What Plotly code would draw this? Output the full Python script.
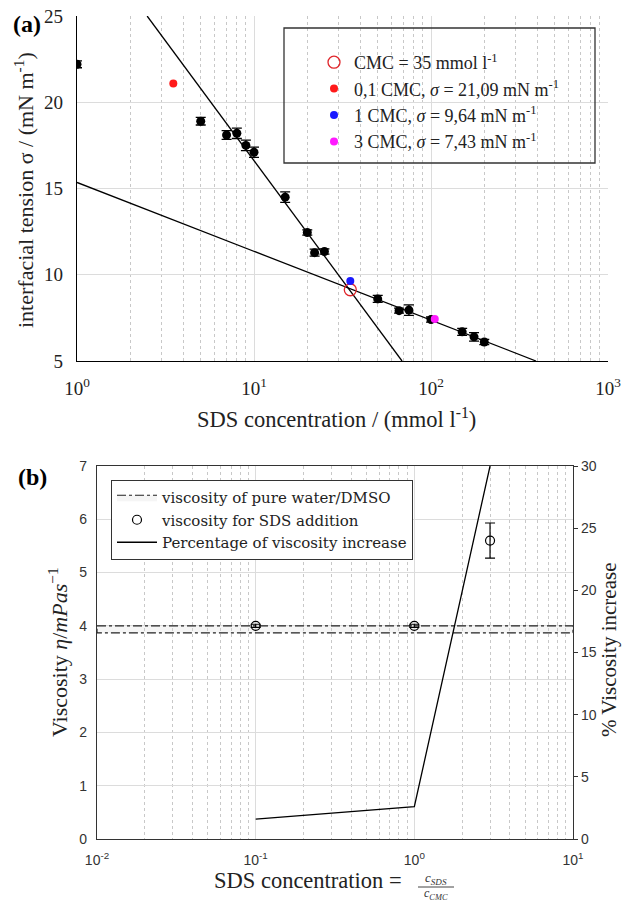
import math
import plotly.graph_objects as go

W, H = 622, 901

# ---------------- Panel (a) data ----------------
sds_conc = [1, 5, 7, 8, 9, 10, 15, 20, 22, 25, 50, 66, 75, 100, 150, 175, 200]
sds_sigma = [22.2, 18.9, 18.1, 18.2, 17.5, 17.1, 14.5, 12.45, 11.28, 11.35, 8.6, 7.92, 7.95, 7.4, 6.69, 6.4, 6.1]
sds_err = [0.2, 0.22, 0.25, 0.3, 0.3, 0.3, 0.3, 0.15, 0.2, 0.15, 0.2, 0.15, 0.3, 0.15, 0.2, 0.25, 0.15]

cmc_x, cmc_y = [35], [9.13]
p01_x, p01_y = [3.5], [21.09]
p1_x, p1_y = [35], [9.64]
p3_x, p3_y = [105], [7.43]

fit_steep_x, fit_steep_y = [2.49, 68.6], [25, 5]
fit_flat_x, fit_flat_y = [1, 392], [15.35, 5]

# ---------------- Panel (b) data ----------------
band_x = [0.01, 10, 10, 0.01, 0.01]
band_y = [4.0, 4.0, 3.87, 3.87, 4.0]
visc_x = [0.1, 1, 3]
visc_y = [4.0, 4.0, 5.6]
visc_err = [0.03, 0.03, 0.33]
pct_x = [0.1, 1, 3]
pct_y = [1.6, 2.6, 30.0]

# ---------------- geometry helpers ----------------
def px(x):
    return x / W
def py(y):
    return 1 - y / H

SERIF = "Liberation Serif, Times New Roman, serif"
SERIF_B = "DejaVu Serif, serif"
SANS = "Liberation Sans, Arial, sans-serif"
GRID = "#dcdcdc"
MINOR = "#c8c8c8"

fig = go.Figure()

# panel a traces
fig.add_trace(go.Scatter(x=fit_steep_x, y=fit_steep_y, mode="lines", line=dict(color="black", width=1.3),
                         showlegend=False, xaxis="x", yaxis="y"))
fig.add_trace(go.Scatter(x=fit_flat_x, y=fit_flat_y, mode="lines", line=dict(color="black", width=1.3),
                         showlegend=False, xaxis="x", yaxis="y"))
fig.add_trace(go.Scatter(x=sds_conc, y=sds_sigma, mode="markers",
                         marker=dict(color="black", size=9),
                         error_y=dict(type="data", array=sds_err, color="black", thickness=1.3, width=5),
                         showlegend=False, xaxis="x", yaxis="y"))
fig.add_trace(go.Scatter(x=cmc_x, y=cmc_y, mode="markers", name="CMC = 35 mmol l<sup>-1</sup>",
                         marker=dict(symbol="circle-open", color="#e0262b", size=12, line=dict(width=1.3)),
                         legend="legend", xaxis="x", yaxis="y"))
fig.add_trace(go.Scatter(x=p01_x, y=p01_y, mode="markers", name="0,1 CMC, <i>σ</i> = 21,09 mN m<sup>-1</sup>",
                         marker=dict(color="#ff1a1a", size=8), legend="legend", xaxis="x", yaxis="y"))
fig.add_trace(go.Scatter(x=p1_x, y=p1_y, mode="markers", name="1 CMC, <i>σ</i> = 9,64 mN m<sup>-1</sup>",
                         marker=dict(color="#1a1aff", size=8), legend="legend", xaxis="x", yaxis="y"))
fig.add_trace(go.Scatter(x=p3_x, y=p3_y, mode="markers", name="3 CMC, <i>σ</i> = 7,43 mN m<sup>-1</sup>",
                         marker=dict(color="#ff1aff", size=8), legend="legend", xaxis="x", yaxis="y"))

# panel b traces
fig.add_trace(go.Scatter(x=band_x, y=band_y, mode="lines", fill="toself",
                         fillcolor="rgba(215,215,215,0.25)",
                         line=dict(color="#222", width=1.2, dash="dashdot"),
                         name="viscosity of pure water/DMSO", legend="legend2", xaxis="x2", yaxis="y2"))
fig.add_trace(go.Scatter(x=visc_x, y=visc_y, mode="markers",
                         marker=dict(symbol="circle-open", color="black", size=9, line=dict(width=1.2)),
                         error_y=dict(type="data", array=visc_err, color="black", thickness=1.2, width=5),
                         name="viscosity for SDS addition", legend="legend2", xaxis="x2", yaxis="y2"))
fig.add_trace(go.Scatter(x=pct_x, y=pct_y, mode="lines", line=dict(color="black", width=1.3),
                         name="Percentage of viscosity increase", legend="legend2", xaxis="x2", yaxis="y3"))

dec_a = [10 ** k for k in range(0, 4)]
minor_a = [m * 10 ** k for k in range(0, 3) for m in range(2, 10)]
dec_b = [10 ** k for k in range(-2, 2)]
minor_b = [m * 10 ** k for k in range(-2, 1) for m in range(2, 10)]

def sup(v):
    return "10<sup>%d</sup>" % round(math.log10(v))

fig.update_layout(
    template="none",
    width=W, height=H,
    margin=dict(l=0, r=0, t=0, b=0, pad=0),
    autosize=False,
    font=dict(family=SERIF, color="#222"),
    paper_bgcolor="white", plot_bgcolor="white",
    xaxis=dict(type="log", domain=[px(77), px(608)], range=[0, 3], anchor="y", automargin=False,
               tickmode="array", tickvals=dec_a, ticktext=[sup(v) for v in dec_a],
               showgrid=True, gridcolor=GRID, gridwidth=1,
               minor=dict(tickmode="array", tickvals=minor_a, showgrid=True, gridcolor=MINOR, griddash="dot", ticks=""),
               showline=True, linecolor="black", linewidth=1.3, ticks="", zeroline=False,
               tickfont=dict(family=SERIF, size=19, color="#222"), ticklabelstandoff=10),
    yaxis=dict(domain=[py(361), py(16)], range=[5, 25], dtick=5, anchor="x", automargin=False,
               showgrid=True, gridcolor=GRID, showline=True, linecolor="black", linewidth=1.3,
               ticks="", zeroline=False, tickfont=dict(family=SERIF, size=19, color="#222"), ticklabelstandoff=9),
    xaxis2=dict(type="log", domain=[px(97), px(573)], range=[-2, 1], anchor="y2", automargin=False,
                tickmode="array", tickvals=dec_b, ticktext=[sup(v) for v in dec_b],
                showgrid=True, gridcolor=GRID,
                minor=dict(tickmode="array", tickvals=minor_b, showgrid=True, gridcolor=MINOR, griddash="dot", ticks=""),
                showline=True, linecolor="#333", linewidth=1.3, mirror=True, ticks="", zeroline=False,
                tickfont=dict(family=SANS, size=14, color="#333"), ticklabelstandoff=8),
    yaxis2=dict(domain=[py(839), py(466)], range=[0, 7], dtick=1, anchor="x2", automargin=False,
                showgrid=True, gridcolor=GRID, showline=True, linecolor="#333", linewidth=1.3,
                ticks="", zeroline=False, tickfont=dict(family=SANS, size=14, color="#333"), ticklabelstandoff=6),
    yaxis3=dict(overlaying="y2", side="right", anchor="x2", range=[0, 30], dtick=5, automargin=False,
                showgrid=False, showline=True, linecolor="#333", linewidth=1.3,
                ticks="outside", ticklen=4, tickcolor="#333", zeroline=False,
                tickfont=dict(family=SANS, size=14, color="#333")),
    legend=dict(x=px(314), y=py(44), xanchor="left", yanchor="top",
                bgcolor="rgba(0,0,0,0)", borderwidth=0,
                font=dict(family=SERIF, size=18, color="#222"), itemwidth=30),
    legend2=dict(x=px(111), y=py(480), xanchor="left", yanchor="top",
                 bgcolor="white", bordercolor="#333", borderwidth=1,
                 font=dict(family=SERIF_B, size=15, color="#222"), itemwidth=40),
)

# legend frame for panel a
fig.add_shape(type="rect", xref="paper", yref="paper",
              x0=px(284), x1=px(595), y0=py(163), y1=py(28),
              line=dict(color="#333", width=1.3), fillcolor="rgba(0,0,0,0)")
# fraction bar in panel b x title
fig.add_shape(type="line", xref="paper", yref="paper",
              x0=px(418), x1=px(454), y0=py(887), y1=py(887),
              line=dict(color="#444", width=1))

ann = [
    dict(text="<b>(a)</b>", x=px(27), y=py(24), font=dict(family=SERIF, size=24, color="black")),
    dict(text="<b>(b)</b>", x=px(32), y=py(477), font=dict(family=SERIF, size=24, color="black")),
    dict(text="interfacial tension σ / (mN m<sup>-1</sup>)", x=px(24), y=py(190), textangle=-90,
         font=dict(family=SERIF, size=22, color="#222")),
    dict(text="SDS concentration / (mmol l<sup>-1</sup>)", x=px(336), y=py(418),
         font=dict(family=SERIF, size=22.5, color="#222")),
    dict(text="Viscosity <i>η</i>/<i>mPas</i><sup>−1</sup>", x=px(58), y=py(652), textangle=-90,
         font=dict(family=SERIF, size=22, color="#222")),
    dict(text="% Viscosity increase", x=px(609), y=py(650), textangle=-90,
         font=dict(family=SERIF, size=21, color="#222")),
    dict(text="SDS concentration =", x=px(308), y=py(880),
         font=dict(family=SERIF, size=22.5, color="#222")),
    dict(text="<i>c<sub>SDS</sub></i>", x=px(436), y=py(878),
         font=dict(family=SERIF, size=13, color="#333")),
    dict(text="<i>c<sub>CMC</sub></i>", x=px(436), y=py(894),
         font=dict(family=SERIF, size=12, color="#333")),
]
for a in ann:
    a.update(xref="paper", yref="paper", showarrow=False, xanchor="center", yanchor="middle")
    fig.add_annotation(**a)

fig.write_html("out.html")
